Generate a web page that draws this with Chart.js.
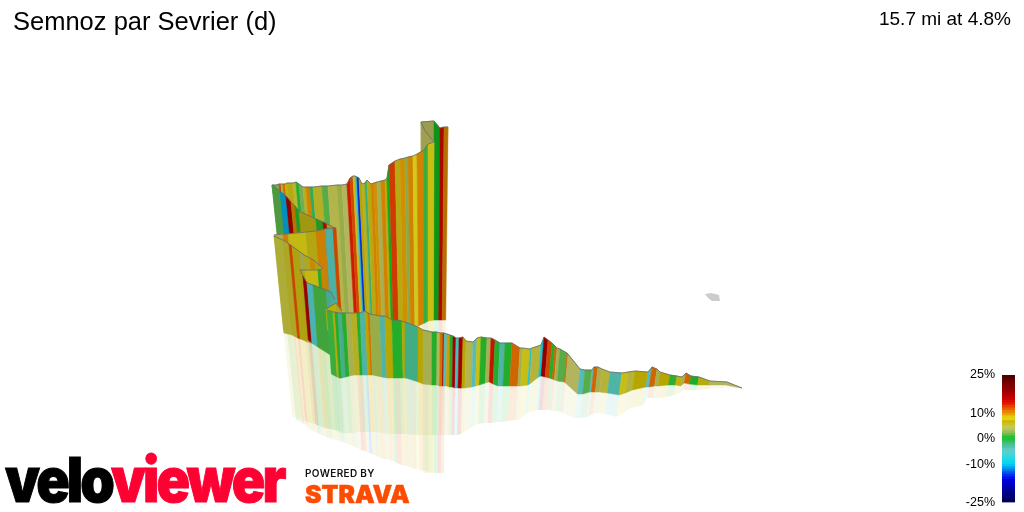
<!DOCTYPE html>
<html lang="en">
<head>
    <meta charset="UTF-8">
    <title>Semnoz par Sevrier (d)</title>
    <script src="https://cdn.jsdelivr.net/npm/chart.js"></script>
    <style>
        body {
            margin: 0;
            background-color: #ffffff;
            font-family: "Liberation Sans", sans-serif;
            width: 1024px;
            height: 512px;
            overflow: hidden;
            position: relative;
        }
        canvas { position: absolute; }
        #profile { left: 0; top: 0; }
        #scale { left: 950px; top: 360px; }
        .text { position: absolute; white-space: nowrap; line-height: 1; }
        #title { left: 13px; top: 9px; font-size: 25.5px; color: #000; }
        #summary { right: 13px; top: 9px; font-size: 19px; color: #000; }
        #logo { left: 5px; top: 442px; font: 900 62px Inter, sans-serif; letter-spacing: -3.3px; -webkit-text-stroke: 1px currentColor; transform-origin: 0 0; transform: scaleX(0.894); }
        #logo span { color: #ff0033; }
        #powered { left: 305px; top: 467px; font: 600 10px Inter, sans-serif; letter-spacing: 0.35px; color: #111; }
        #strava { left: 305px; top: 480px; font: 900 24px Inter, sans-serif; -webkit-text-stroke: 0.5px #fc4c02; color: #fc4c02; transform-origin: 0 0; transform: scaleX(1.03); }
    </style>
</head>
<body>

    <canvas id="profile" width="1024" height="512"></canvas>
    <canvas id="scale" width="65" height="157"></canvas>

    <div class="text" id="title">Semnoz par Sevrier (d)</div>
    <div class="text" id="summary">15.7 mi at 4.8%</div>
    <div class="text" id="logo">velo<span>viewer</span></div>
    <div class="text" id="powered">POWERED BY</div>
    <div class="text" id="strava">STRAVA</div>

    <script>
        // gradient colour scale
        const gradeStops = [-25, -20, -16, -14, -12, -10, -8, -5, -3, -1, 0, 1, 2, 3, 4, 5, 6.5, 8, 9, 10, 12, 13.5, 15, 18, 21, 25];
        const gradeColours = ['#000050', '#0000a0', '#0000e8', '#0040f0', '#0090f0', '#00d8f0', '#20d8e8', '#60d0d0', '#50c0a0', '#30c060',
            '#10c020', '#40c040', '#80c060', '#a8c050', '#c8c868', '#c8c840', '#ccb800', '#e8e020', '#e8b000', '#e89000',
            '#e85000', '#e02000', '#d80000', '#a00000', '#800000', '#400000'];
        const scaleTicks = [-25, -10, 0, 10, 25];
        const scaleBands = [-25, -24, -23, -22, -21, -20, -19, -18, -17, -16, -15, -14, -13, -12, -11, -10, -9, -8, -7, -6, -5, -4, -3, -2, -1,
            0, 1, 2, 3, 4, 5, 6, 7, 8, 9, 10, 11, 12, 13, 14, 15, 16, 17, 18, 19, 20, 21, 22, 23, 24];

        // summit hook behind the long climb
        const hookX = [421, 434, 440, 444, 448];
        const hookTop = [122, 121, 128, 127, 127];
        const hookBase = [320, 320, 320, 320, 320];
        const hookMirror = [473, 473, 473, 473, 473];
        const hookGrade = [4, 0, 14.5, 10];

        const foldX = [421, 425, 430, 434];
        const foldTop = [122, 131, 137, 142];
        const foldBase = [160, 160, 160, 160];
        const foldGrade = [4, 4, 4];

        // long climb along the back
        const climbX = [272, 276, 279, 281, 283, 285, 287, 293, 296, 299, 303, 306, 310, 313, 322, 328, 337, 342, 347, 350, 353, 355, 357, 359, 362, 365, 367, 371, 374, 377, 381, 385, 387, 389, 395, 400, 405, 408, 413, 417, 424, 428, 434];
        const climbTop = [185, 185, 184, 184, 184, 184, 183, 183, 182, 184, 187, 187, 187, 187, 186, 186, 185, 185, 184, 178, 176, 176, 177, 178, 184, 183, 180, 184, 183, 182, 181, 180, 178, 165, 161, 159, 158, 157, 156, 154, 150, 144, 142];
        const climbBase = [330, 330, 330, 330, 330, 330, 330, 330, 330, 330, 330, 330, 330, 330, 330, 330, 330, 330, 330, 330, 330, 330, 330, 330, 330, 330, 330, 330, 330, 330, 330, 330, 330, 330, 330, 330, 329, 328, 327, 326, 323, 321, 320];
        const climbMirror = [420, 422, 423, 424, 425, 427, 429, 432, 433, 434, 436, 437, 438, 439, 441, 443, 446, 448, 450, 451, 452, 453, 453, 454, 455, 456, 457, 458, 459, 459, 460, 461, 462, 463, 465, 466, 467, 468, 469, 470, 471, 472, 473];
        const climbGrade = [1.5, 2, 12, 5, 11, 7, 6, 5, 0.5, 2, 5.5, 10, -1, 5.5, 1.5, 4.5, 3, 4, 13.5, 12, 7.5, -6, -14.5, 6.5, 5.5, -2, 6, 10, 9.5, 3.5, 10, 6, 0, 12.5, 6, 9.5, 2.5, 10, 8, 10, 1, 7.5];

        // switchbacks on the left, back to front
        const bendAX = [272, 280, 286, 291, 295, 299, 316, 323, 327, 335];
        const bendATop = [185, 191, 196, 202, 206, 211, 219, 222, 224, 228];
        const bendABase = [320, 320, 320, 320, 320, 320, 320, 320, 320, 320];
        const bendAGrade = [1.5, -11, 17, 10, 0.5, 6, 0.5, 14.5, 7];

        const bendBX = [274, 283, 288, 306, 316, 325, 333, 336];
        const bendBTop = [235, 234, 234, 232, 231, 229, 228, 228];
        const bendBBase = [330, 330, 330, 330, 330, 330, 330, 330];
        const bendBGrade = [4.5, 10, 7.5, 6, 10, -4, 12];

        const bendCX = [274, 283, 289, 292, 300, 304, 310, 315, 320, 323];
        const bendCTop = [236, 240, 244, 246, 252, 255, 258, 261, 266, 268];
        const bendCBase = [333, 335, 338, 339, 342, 343, 345, 346, 347, 348];
        const bendCMirror = [417, 419, 421, 422, 424, 425, 427, 428, 429, 430];
        const bendCGrade = [5, 5.5, 12, 6, 3.5, 5.5, 9.5, 6, 4];

        const bendDX = [300, 305, 318, 321, 323];
        const bendDTop = [270, 270, 270, 269, 268];
        const bendDBase = [340, 340, 340, 340, 340];
        const bendDGrade = [6, 7.5, 0.5, 10];

        const bendEX = [300, 303, 307, 313, 326, 331, 335];
        const bendETop = [270, 276, 283, 285, 290, 292, 300];
        const bendEBase = [337, 340, 343, 347, 355, 358, 360];
        const bendEMirror = [422, 424, 426, 428, 430, 431, 432];
        const bendEGrade = [6, 17, -5.5, 1.2, -3.5, -4];

        const notchX = [326, 336, 342];
        const notchTop = [309, 303, 311];
        const notchBase = [330, 330, 330];
        const notchGrade = [7, 6];

        // front wall running out to the foot of the climb
        const frontX = [327, 333, 335, 338, 342, 346, 351, 357, 360, 365, 368, 370, 380, 385, 392, 402, 405, 418, 423, 432, 437, 440, 443, 444, 447, 450, 453, 456, 459, 463, 466, 473, 477, 481, 487, 491, 495, 500, 505, 512, 520, 523, 530, 532, 541, 544, 548, 552, 555, 557, 560, 567, 568, 580, 585, 592, 594, 598, 602, 610, 622, 628, 635, 648, 652, 657, 660, 670, 677, 682, 686, 691, 699, 710, 727, 742];
        const frontTop = [310, 312, 312, 313, 313, 313, 313, 313, 313, 311, 313, 314, 316, 316, 320, 321, 322, 327, 330, 332, 332, 333, 333, 333, 334, 335, 336, 338, 338, 337, 341, 342, 338, 337, 338, 338, 340, 343, 343, 343, 348, 348, 349, 348, 345, 337, 340, 343, 346, 348, 349, 353, 354, 369, 370, 370, 367, 367, 369, 372, 373, 372, 371, 372, 367, 369, 372, 375, 376, 377, 373, 376, 377, 381, 382, 388];
        const frontBase = [374, 377, 378, 378, 377, 376, 375, 375, 375, 375, 375, 375, 377, 378, 378, 378, 378, 382, 384, 385, 385, 386, 386, 386, 386, 387, 387, 388, 388, 388, 388, 387, 386, 385, 383, 382, 384, 386, 386, 386, 386, 386, 385, 384, 377, 376, 377, 378, 379, 380, 381, 382, 383, 394, 394, 392, 392, 392, 392, 393, 395, 393, 390, 387, 387, 386, 386, 385, 385, 386, 383, 384, 385, 385, 385, 388];
        const frontMirror = [430, 433, 433, 433, 433, 433, 432, 432, 432, 432, 432, 432, 433, 434, 434, 434, 434, 435, 435, 435, 435, 435, 435, 435, 435, 435, 435, 435, 435, 434, 432, 428, 425, 424, 423, 423, 423, 422, 422, 421, 420, 420, 414, 413, 410, 410, 410, 410, 410, 411, 411, 412, 413, 418, 418, 417, 416, 414, 413, 414, 417, 413, 408, 405, 398, 398, 398, 397, 395, 393, 390, 390, 390, 389, 388, 388];
        const frontGrade = [1, 6, 0.5, -3, 0.5, 3.5, 5.5, 0.5, -4, 6.5, 10.5, 3, -4, 6.5, 0.5, 6.5, -2.5, 6.5, 3.5, 0.5, 4, 10.5, 17, -5, 9, 0.5, 17, -6, 17, 6.5, 4.5, -5, 7.5, 0.5, 3.5, 14, 0.5, -4, 0.5, 11, 3.5, 7.5, -7, 5, -9, 18, 12, 0.5, 11, 3.5, 1.5, 11, 4, -5, 1.5, -5, 11, 3.5, 5, -4, 7.5, 5, 6.5, -5, 11, 3.5, 6.5, 0.8, 7, 3.5, 11, 0.3, 6, 4, 4];

        // small grey patch to the right of the profile
        const patchX = [705, 711, 719, 720, 712, 708];
        const patchY = [294, 293, 295, 301, 301, 298];

        const walls = [
            { x: hookX, top: hookTop, base: hookBase, mirror: hookMirror, grade: hookGrade, shade: 0.78 },
            { x: foldX, top: foldTop, base: foldBase, grade: foldGrade, shade: 0.8 },
            { x: climbX, top: climbTop, base: climbBase, mirror: climbMirror, grade: climbGrade, shade: 0.9 },
            { x: bendAX, top: bendATop, base: bendABase, grade: bendAGrade, shade: 0.8 },
            { x: bendBX, top: bendBTop, base: bendBBase, grade: bendBGrade, shade: 0.88 },
            { x: bendCX, top: bendCTop, base: bendCBase, mirror: bendCMirror, grade: bendCGrade, shade: 0.86 },
            { x: bendDX, top: bendDTop, base: bendDBase, grade: bendDGrade, shade: 0.88 },
            { x: bendEX, top: bendETop, base: bendEBase, mirror: bendEMirror, grade: bendEGrade, shade: 0.85 },
            { x: notchX, top: notchTop, base: notchBase, grade: notchGrade, shade: 0.88 },
            { x: frontX, top: frontTop, base: frontBase, mirror: frontMirror, grade: frontGrade, shade: 0.9 }
        ];

        function hexToRgb(hex) {
            return [1, 3, 5].map(i => parseInt(hex.slice(i, i + 2), 16));
        }

        function gradeColour(grade, shade, alpha) {
            let i = 0;
            while (i < gradeStops.length - 2 && grade > gradeStops[i + 1]) i++;
            const t = (grade - gradeStops[i]) / (gradeStops[i + 1] - gradeStops[i]);
            const a = hexToRgb(gradeColours[i]), b = hexToRgb(gradeColours[i + 1]);
            const rgb = a.map((v, k) => Math.round((v + (b[k] - v) * t) * shade));
            return `rgba(${rgb[0]},${rgb[1]},${rgb[2]},${alpha})`;
        }

        // uprights lean in towards a point below the summit
        function leanX(x, rise) {
            return x + (430 - x) * rise * 0.00065;
        }

        // the filler clips to the first/last x of a path, so open on the
        // leftmost corner and finish on the rightmost one
        function closedPath(corners) {
            let first = 0, last = 0;
            corners.forEach((p, i) => {
                if (p.x < corners[first].x) first = i;
                if (p.x > corners[last].x) last = i;
            });
            const ring = corners.slice(first).concat(corners.slice(0, first));
            return ring.concat([ring[0], corners[last]]);
        }

        function polygon(corners, colour, seam) {
            return {
                data: closedPath(corners),
                showLine: true,
                fill: 'shape',
                backgroundColor: colour,
                borderColor: colour,
                borderWidth: seam,
                pointRadius: 0,
                tension: 0
            };
        }

        const layers = [];

        walls.forEach(w => {
            if (!w.mirror) return;
            w.grade.forEach((g, i) => {
                const j = i + 1;
                layers.push(polygon([
                    { x: leanX(w.x[i], w.base[i] - w.top[i]), y: w.base[i] },
                    { x: leanX(w.x[j], w.base[j] - w.top[j]), y: w.base[j] },
                    { x: leanX(w.x[j], w.mirror[j] - w.top[j]), y: w.mirror[j] },
                    { x: leanX(w.x[i], w.mirror[i] - w.top[i]), y: w.mirror[i] }
                ], gradeColour(g, 1, 0.13), 0));
            });
        });

        walls.forEach(w => {
            w.grade.forEach((g, i) => {
                const j = i + 1;
                layers.push(polygon([
                    { x: w.x[i], y: w.top[i] },
                    { x: w.x[j], y: w.top[j] },
                    { x: leanX(w.x[j], w.base[j] - w.top[j]), y: w.base[j] },
                    { x: leanX(w.x[i], w.base[i] - w.top[i]), y: w.base[i] }
                ], gradeColour(g, w.shade, 1), 0.5));
            });
            layers.push({
                data: w.x.map((x, i) => ({ x: x, y: w.top[i] })),
                showLine: true,
                fill: false,
                borderColor: 'rgba(105,105,105,0.8)',
                borderWidth: 1,
                pointRadius: 0,
                tension: 0
            });
        });

        layers.push(polygon(patchX.map((x, i) => ({ x: x, y: patchY[i] })), '#cccccc', 0));

        // Chart.js paints the first dataset last
        layers.reverse();

        new Chart(document.getElementById('profile'), {
            type: 'scatter',
            data: { datasets: layers },
            options: {
                responsive: false,
                animation: false,
                events: [],
                plugins: { legend: { display: false }, tooltip: { enabled: false } },
                scales: {
                    x: { type: 'linear', min: 0, max: 1024, display: false },
                    y: { type: 'linear', min: 0, max: 512, reverse: true, display: false }
                }
            }
        });

        new Chart(document.getElementById('scale'), {
            type: 'bar',
            data: {
                labels: ['grade'],
                datasets: scaleBands.map(g => ({
                    data: [[g, g + 1.1]],
                    backgroundColor: gradeColour(g + 0.5, 1, 1),
                    grouped: false,
                    barPercentage: 1,
                    categoryPercentage: 1
                }))
            },
            options: {
                responsive: false,
                animation: false,
                events: [],
                layout: { padding: { top: 15, bottom: 0 } },
                plugins: { legend: { display: false }, tooltip: { enabled: false } },
                scales: {
                    x: { display: false },
                    y: {
                        min: -25,
                        max: 25,
                        grid: { display: false, drawTicks: false },
                        border: { display: false },
                        afterBuildTicks: axis => { axis.ticks = scaleTicks.map(v => ({ value: v })); },
                        afterFit: axis => { axis.width = 52; },
                        ticks: {
                            autoSkip: false,
                            padding: 7,
                            color: '#000000',
                            font: { family: '"Liberation Sans"', size: 12.5 },
                            callback: v => v + '%'
                        }
                    }
                }
            }
        });
    </script>

</body>
</html>
